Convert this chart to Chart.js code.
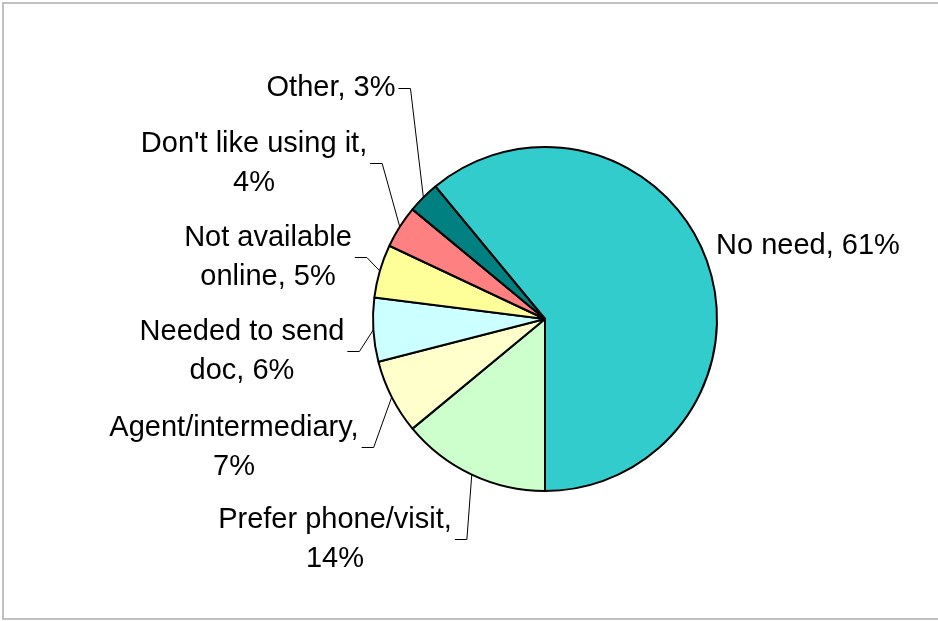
<!DOCTYPE html>
<html>
<head>
<meta charset="utf-8">
<script src="https://cdn.jsdelivr.net/npm/chart.js@4"></script>
<style>
  html, body { margin: 0; padding: 0; background: #fff; overflow: hidden; }
  #frame {
    position: absolute; left: 2px; top: 2px; width: 936px; height: 618px;
    border: 2px solid #c0c0c0; border-right: none; box-sizing: border-box;
  }
  #wrap { position: absolute; left: 0; top: 0; width: 938px; height: 621px; }
</style>
</head>
<body>
<div id="frame"></div>
<div id="wrap"><canvas id="pie"></canvas></div>
<script>
// values (percent), clockwise from the "No need" slice
var categories = [
  "No need",
  "Prefer phone/visit",
  "Agent/intermediary",
  "Needed to send doc",
  "Not available online",
  "Don't like using it",
  "Other"
];
var percents = [61, 14, 7, 6, 5, 4, 3];
var colors = ["#33cccc", "#ccffcc", "#ffffcc", "#ccffff", "#ffff99", "#ff8080", "#008080"];

// how each label is broken into lines
var labelLines = [
  ["No need, 61%"],
  ["Prefer phone/visit,", "14%"],
  ["Agent/intermediary,", "7%"],
  ["Needed to send", "doc, 6%"],
  ["Not available", "online, 5%"],
  ["Don't like using it,", "4%"],
  ["Other, 3%"]
];

// label block centre, relative to the pie centre (px); leader = draw a leader line
var labelPos = [
  { dx: 263, dy: -73, leader: false },
  { dx: -210, dy: 220, leader: true },
  { dx: -311, dy: 128, leader: true },
  { dx: -303, dy: 32, leader: true },
  { dx: -277, dy: -62, leader: true },
  { dx: -291, dy: -156, leader: true },
  { dx: -214, dy: -231, leader: true }
];

var FONT_SIZE = 29;
var LINE_H = 39;

var labelPlugin = {
  id: "pieLabels",
  afterDatasetsDraw(chart) {
    var ctx = chart.ctx;
    var meta = chart.getDatasetMeta(0);
    ctx.save();
    ctx.font = FONT_SIZE + "px 'Liberation Sans', Arial, sans-serif";
    ctx.fillStyle = "#000";
    ctx.textAlign = "center";
    ctx.textBaseline = "middle";
    meta.data.forEach((arc, i) => {
      var p = arc.getProps(["x", "y", "startAngle", "endAngle", "outerRadius"], true);
      var pos = labelPos[i];
      var cx = p.x + pos.dx;
      var cy = p.y + pos.dy;
      var lines = labelLines[i];
      var w = 0;
      lines.forEach((l) => { w = Math.max(w, ctx.measureText(l).width); });
      var top = cy - (lines.length * LINE_H) / 2 + LINE_H / 2;
      lines.forEach((l, k) => { ctx.fillText(l, cx, top + k * LINE_H); });

      if (pos.leader) {
        var mid = (p.startAngle + p.endAngle) / 2;
        var ex = p.x + Math.cos(mid) * p.outerRadius;
        var ey = p.y + Math.sin(mid) * p.outerRadius;
        var sx = cx + w / 2 + 3;
        ctx.beginPath();
        ctx.strokeStyle = "#000";
        ctx.lineWidth = 1;
        ctx.moveTo(sx, cy + 0.5);
        ctx.lineTo(sx + 12, cy + 0.5);
        ctx.lineTo(ex, ey);
        ctx.stroke();
      }
    });
    ctx.restore();
  }
};

new Chart(document.getElementById("pie"), {
  type: "pie",
  data: {
    labels: categories,
    datasets: [
      {
        data: percents,
        backgroundColor: colors,
        borderColor: "#000",
        borderWidth: 2,
        borderAlign: "center"
      }
    ]
  },
  options: {
    responsive: true,
    maintainAspectRatio: false,
    animation: false,
    rotation: -39.6,
    layout: { padding: { left: 372, right: 220, top: 146, bottom: 129 } },
    plugins: {
      legend: { display: false },
      tooltip: { enabled: false }
    }
  },
  plugins: [labelPlugin]
});
</script>
</body>
</html>
